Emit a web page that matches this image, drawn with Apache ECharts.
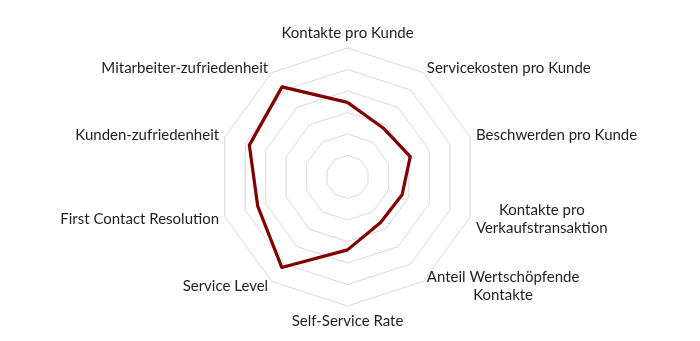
<!DOCTYPE html>
<html>
<head>
<meta charset="utf-8">
<script src="https://cdn.jsdelivr.net/npm/echarts@6/dist/echarts.min.js"></script>
<style>
html,body{margin:0;padding:0;background:#fff;}
#chart{width:700px;height:341px;}
</style>
</head>
<body>
<div id="chart"></div>
<script>
// Categories in clockwise order starting at the top
const categories = [
  'Kontakte pro Kunde',
  'Servicekosten pro Kunde',
  'Beschwerden pro Kunde',
  'Kontakte pro\nVerkaufstransaktion',
  'Anteil Wertschöpfende\nKontakte',
  'Self-Service Rate',
  'Service Level',
  'First Contact Resolution',
  'Kunden-zufriedenheit',
  'Mitarbeiter-zufriedenheit'
];
const values = [3.47, 2.82, 3.07, 2.67, 2.62, 3.39, 5.2, 4.39, 4.8, 5.18];
const maxValue = 6;

// ECharts places radar indicators counter-clockwise; reorder to draw clockwise
const order = [0].concat(categories.map((_, i) => i).slice(1).reverse());
const indicators = order.map(i => ({ name: categories[i], max: maxValue }));
const seriesValues = order.map(i => values[i]);

const chart = echarts.init(document.getElementById('chart'), null, { renderer: 'canvas' });
chart.setOption({
  animation: false,
  backgroundColor: '#ffffff',
  radar: {
    center: [347.5, 177],
    radius: 129,
    startAngle: 90,
    shape: 'polygon',
    splitNumber: 6,
    nameGap: 6,
    indicator: indicators,
    axisName: {
      color: '#1f1f1f',
      fontFamily: 'Lato',
      fontSize: 15,
      formatter: function (name) {
        return name.split('\n').map(s => '{c|' + s + '}').join('\n');
      },
      rich: {
        c: { align: 'center', color: '#1f1f1f', fontFamily: 'Lato', fontSize: 15, lineHeight: 18 }
      }
    },
    axisLine: { show: false },
    axisTick: { show: false },
    axisLabel: { show: false },
    splitArea: { show: false },
    splitLine: { lineStyle: { color: '#d9d9d9', width: 1 } }
  },
  series: [{
    type: 'radar',
    symbol: 'none',
    lineStyle: { color: '#800000', width: 3.2 },
    itemStyle: { color: '#800000' },
    data: [{ value: seriesValues }]
  }]
});
</script>
</body>
</html>
